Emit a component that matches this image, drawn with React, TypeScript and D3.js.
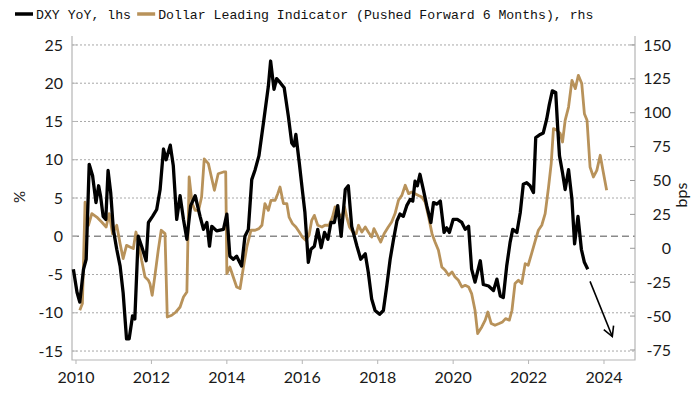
import * as d3 from 'd3';

// DXY YoY (%), left axis: [decimal year, value]
const dxySeries: [number, number][] = [
  [2009.93, -4.3], [2010.03, -7.4], [2010.1, -8.6], [2010.2, -4.3], [2010.27, -3], [2010.35, 9.4],
  [2010.44, 7.9], [2010.53, 4.4], [2010.6, 6.6], [2010.65, 5.3], [2010.72, 2.6], [2010.79, 2.2],
  [2010.85, 8.6], [2010.92, 5.7], [2010.99, 0.9], [2011.08, -1.7], [2011.17, -3.9], [2011.25, -7.4],
  [2011.34, -13.4], [2011.41, -13.4], [2011.5, -10.4], [2011.56, -10.8], [2011.65, 0], [2011.74, -1.3],
  [2011.86, -3.2], [2011.92, 1.8], [2012.03, 2.6], [2012.14, 3.5], [2012.23, 6.1], [2012.32, 11.4],
  [2012.39, 10], [2012.5, 11.9], [2012.58, 9.2], [2012.67, 2.2], [2012.76, 5.3], [2012.85, 2.2],
  [2012.94, -0.4], [2013.04, 4], [2013.16, 5.3], [2013.29, 2.6], [2013.38, 0.9], [2013.47, 1.8],
  [2013.54, -1.3], [2013.6, 1.3], [2013.73, 0.7], [2013.91, 0.9], [2014.0, 2.9], [2014.08, -2.6],
  [2014.17, -3], [2014.26, -2.6], [2014.39, -3.9], [2014.48, 0], [2014.57, 0.9], [2014.66, 7.4],
  [2014.75, 8.7], [2014.85, 10.5], [2014.97, 14.8], [2015.1, 19.6], [2015.16, 22.9], [2015.25, 19.2],
  [2015.32, 20.6], [2015.41, 20.1], [2015.52, 19.4], [2015.63, 15.7], [2015.72, 12.2], [2015.78, 11.8],
  [2015.83, 13.3], [2015.92, 9.6], [2016.0, 6.1], [2016.07, 3.1], [2016.16, -3.4], [2016.23, -1.7],
  [2016.32, -1.3], [2016.41, 0.9], [2016.5, -1.5], [2016.59, 0.5], [2016.68, -0.4], [2016.76, 1.8],
  [2016.85, 1.8], [2016.94, 4], [2017.03, 0], [2017.14, 6.1], [2017.22, 6.6], [2017.31, 1.3],
  [2017.45, -1.3], [2017.55, -3], [2017.67, -2.3], [2017.75, -4.7], [2017.84, -8.2], [2017.93, -9.7],
  [2018.05, -10.2], [2018.15, -9.7], [2018.24, -6.5], [2018.33, -3], [2018.42, -0.4], [2018.51, 2],
  [2018.59, 2.9], [2018.68, 2.6], [2018.77, 4], [2018.86, 4.8], [2018.93, 4.6], [2018.99, 7.2],
  [2019.05, 6.6], [2019.12, 8.1], [2019.21, 6.1], [2019.3, 4], [2019.41, 1.8], [2019.48, 4.4],
  [2019.57, 4.2], [2019.66, 4.6], [2019.76, 0.5], [2019.83, 1.1], [2019.9, 0.5], [2020.0, 2.2],
  [2020.11, 2.2], [2020.23, 1.8], [2020.32, 0.9], [2020.41, 1.3], [2020.49, -4.3], [2020.58, -6],
  [2020.72, -3.2], [2020.8, -6.3], [2020.94, -6.5], [2021.07, -7.1], [2021.16, -5.6], [2021.25, -7.8],
  [2021.33, -8], [2021.42, -3.9], [2021.51, -0.8], [2021.58, 0.9], [2021.69, 0.5], [2021.78, 3.1],
  [2021.86, 6.8], [2021.95, 7], [2022.04, 6.6], [2022.13, 5.7], [2022.19, 12.9], [2022.31, 13.3],
  [2022.39, 13.5], [2022.48, 15.3], [2022.55, 17.2], [2022.63, 19], [2022.72, 18.8], [2022.77, 14.4],
  [2022.82, 10.5], [2022.9, 8.3], [2022.97, 6.1], [2023.06, 8.7], [2023.15, 4.8], [2023.22, -1],
  [2023.31, 2.6], [2023.4, -1.7], [2023.48, -3.4], [2023.57, -4.3],
];

// Dollar Leading Indicator (bps, pushed forward 6 months), right axis
const dliSeries: [number, number][] = [
  [2010.1, -45.7], [2010.17, -40.8], [2010.24, 34], [2010.33, 17], [2010.42, 25.6], [2010.55, 23],
  [2010.68, 19.4], [2010.8, 15.7], [2010.88, 25.6], [2010.97, 10.8], [2011.08, 17], [2011.17, 3.4],
  [2011.25, -7.6], [2011.34, 2.2], [2011.43, 1], [2011.52, -0.2], [2011.59, 12], [2011.68, 1],
  [2011.74, -8.8], [2011.83, -21.2], [2011.92, -23.6], [2011.96, -26], [2012.02, -34.7], [2012.1, -18.7],
  [2012.18, -1.5], [2012.26, 13.3], [2012.36, 10.8], [2012.42, -50.7], [2012.54, -49.4], [2012.65, -47],
  [2012.76, -43.3], [2012.85, -35.9], [2012.94, -32.2], [2013.0, 52.6], [2013.08, 33], [2013.16, 28],
  [2013.25, 28], [2013.33, 37.8], [2013.4, 66], [2013.51, 62.5], [2013.67, 42.8], [2013.77, 55],
  [2013.91, 56.3], [2013.97, 56.3], [2014.0, -18.7], [2014.08, -13.8], [2014.17, -21.2], [2014.26, -28.5],
  [2014.35, -29.7], [2014.44, -13.8], [2014.53, 1], [2014.64, 13.3], [2014.75, 13.3], [2014.85, 14.5],
  [2014.93, 17], [2015.01, 33], [2015.1, 28], [2015.17, 35.4], [2015.28, 35.4], [2015.35, 40.3],
  [2015.41, 45.2], [2015.5, 33], [2015.59, 33], [2015.65, 23], [2015.74, 18.2], [2015.83, 15.7],
  [2015.92, 12], [2016.0, 8.3], [2016.09, 5.9], [2016.18, 9.6], [2016.25, 20.6], [2016.32, 24.3],
  [2016.41, 17], [2016.52, 15.7], [2016.6, 17], [2016.71, 17], [2016.8, 23], [2016.87, 30.5],
  [2016.96, 25.6], [2017.05, 23], [2017.12, 30.5], [2017.18, 23], [2017.25, 15.7], [2017.34, 12],
  [2017.43, 10.8], [2017.49, 17], [2017.58, 12], [2017.67, 15.7], [2017.75, 12], [2017.84, 8.3],
  [2017.9, 14.5], [2017.99, 9.6], [2018.08, 4.6], [2018.17, 10.8], [2018.28, 15.7], [2018.37, 19.4],
  [2018.46, 25.6], [2018.55, 35.4], [2018.64, 39], [2018.73, 46.5], [2018.82, 40.3], [2018.9, 41.5],
  [2018.99, 40.3], [2019.08, 39], [2019.17, 37.8], [2019.26, 34], [2019.35, 23], [2019.44, 10.8],
  [2019.52, 4.6], [2019.61, -1.5], [2019.7, -13.8], [2019.79, -16.2], [2019.88, -19.9], [2019.97, -17.5],
  [2020.05, -21.2], [2020.14, -23.6], [2020.23, -28.5], [2020.32, -27.3], [2020.41, -28.5], [2020.49, -33.4],
  [2020.58, -45.7], [2020.65, -62.9], [2020.76, -58], [2020.85, -53], [2020.92, -47], [2021.01, -55.5],
  [2021.11, -56.8], [2021.22, -55.5], [2021.31, -54.3], [2021.39, -51.9], [2021.49, -53], [2021.56, -45.7],
  [2021.64, -26], [2021.73, -23.6], [2021.82, -26], [2021.91, -11.3], [2021.99, -12.5], [2022.08, -3.9],
  [2022.18, 5.9], [2022.26, 13.3], [2022.35, 17], [2022.44, 25.6], [2022.53, 45.2], [2022.6, 62.5],
  [2022.66, 88.3], [2022.75, 87], [2022.84, 84.6], [2022.9, 78.4], [2022.97, 94.4], [2023.06, 104.2],
  [2023.15, 123.9], [2023.24, 117.8], [2023.32, 127.6], [2023.41, 121.5], [2023.48, 99.3], [2023.55, 94.4],
  [2023.63, 60], [2023.72, 52.6], [2023.81, 57.5], [2023.9, 68.6], [2023.98, 56.3], [2024.07, 42.8],
];

const yearTicks = [2010, 2012, 2014, 2016, 2018, 2020, 2022, 2024];
const leftTicks = [-15, -10, -5, 0, 5, 10, 15, 20, 25];
const rightTicks = [-75, -50, -25, 0, 25, 50, 75, 100, 125, 150];
// arrow annotation (in left-axis units)
const arrowFrom: [number, number] = [2023.63, -5.9];
const arrowTo: [number, number] = [2024.22, -13.1];

const legendItems = [
  { label: 'DXY YoY, lhs', color: '#000000' },
  { label: 'Dollar Leading Indicator (Pushed Forward 6 Months), rhs', color: '#b8925a' },
];

const W = 700, H = 394;
const plot = { left: 72, right: 635, top: 36, bottom: 360 };
const tickFont = 'Lato, "Open Sans", sans-serif';

export default function App() {
  const x = d3.scaleLinear().domain([2009.894, 2024.822]).range([plot.left, plot.right]);
  const yL = d3.scaleLinear().domain([-16.17, 26.17]).range([plot.bottom, plot.top]);
  const yR = d3.scaleLinear().domain([-82.4, 156.6]).range([plot.bottom, plot.top]);

  const lineL = d3.line<[number, number]>().x(d => x(d[0])).y(d => yL(d[1]));
  const lineR = d3.line<[number, number]>().x(d => x(d[0])).y(d => yR(d[1]));

  // arrow head
  const ax1 = x(arrowFrom[0]), ay1 = yL(arrowFrom[1]);
  const ax2 = x(arrowTo[0]), ay2 = yL(arrowTo[1]);
  const ang = Math.atan2(ay2 - ay1, ax2 - ax1);
  const hl = 11;
  const head = [ang + Math.PI - 0.5, ang + Math.PI + 0.5].map(a => [ax2 + hl * Math.cos(a), ay2 + hl * Math.sin(a)]);

  let lx = 15;
  const legendPos = legendItems.map(it => {
    const pos = lx;
    lx += 21 + it.label.length * 7.93 + 6;
    return pos;
  });

  return (
    <div style={{ position: 'absolute', left: 0, top: 0 }}>
      <svg width={W} height={H} style={{ display: 'block', background: '#fff' }}>
        {/* legend */}
        {legendItems.map((it, i) => (
          <g key={it.label} transform={`translate(${legendPos[i]},0)`}>
            <line x1={0} x2={18} y1={14} y2={14} stroke={it.color} strokeWidth={3.5} />
            <text x={21} y={19} fontFamily='"Liberation Mono", "DejaVu Sans Mono", monospace' fontSize={13.2} fill="#111">
              {it.label}
            </text>
          </g>
        ))}

        {/* gridlines */}
        {leftTicks.map(t => (
          <line key={t} x1={plot.left} x2={plot.right} y1={yL(t)} y2={yL(t)}
            stroke={t === 0 ? '#8a8a8a' : '#a8a8a8'} strokeWidth={t === 0 ? 1.3 : 1}
            strokeDasharray={t === 0 ? '7,4' : '2,2'} />
        ))}

        {/* frame */}
        <path d={`M${plot.left},${plot.top}V${plot.bottom}H${plot.right}V${plot.top}`} fill="none" stroke="#b5b5b5" strokeWidth={1.2} />

        {/* left ticks */}
        {leftTicks.map(t => (
          <g key={t}>
            <line x1={plot.left} x2={plot.left + 5} y1={yL(t)} y2={yL(t)} stroke="#b5b5b5" />
            <text x={63} y={yL(t)} dy="0.35em" textAnchor="end" fontFamily={tickFont} fontSize={16} fill="#1a1a1a">{t}</text>
          </g>
        ))}
        {/* right ticks */}
        {rightTicks.map(t => (
          <g key={t}>
            <line x1={plot.right - 5} x2={plot.right} y1={yR(t)} y2={yR(t)} stroke="#9a9a9a" />
            <text x={671} y={yR(t)} dy="0.35em" textAnchor="end" fontFamily={tickFont} fontSize={16} fill="#1a1a1a">{t}</text>
          </g>
        ))}
        {/* bottom ticks */}
        {yearTicks.map(t => (
          <g key={t}>
            <line x1={x(t)} x2={x(t)} y1={plot.bottom} y2={plot.bottom + 4} stroke="#b5b5b5" />
            <text x={x(t)} y={383} textAnchor="middle" fontFamily={tickFont} fontSize={16} fill="#1a1a1a">{d3.format('d')(t)}</text>
          </g>
        ))}

        {/* axis titles */}
        <text transform="translate(25,197) rotate(-90)" textAnchor="middle" fontFamily={tickFont} fontSize={15} fill="#1a1a1a">%</text>
        <text transform="translate(687,195) rotate(-90)" textAnchor="middle" fontFamily={tickFont} fontSize={16} fill="#1a1a1a">bps</text>

        {/* series */}
        <path d={lineR(dliSeries) ?? ''} fill="none" stroke="#b8925a" strokeWidth={2.8} strokeLinejoin="round" />
        <path d={lineL(dxySeries) ?? ''} fill="none" stroke="#000" strokeWidth={3.3} strokeLinejoin="round" />

        {/* arrow */}
        <line x1={ax1} y1={ay1} x2={ax2} y2={ay2} stroke="#000" strokeWidth={1.6} />
        <polyline points={`${head[0][0]},${head[0][1]} ${ax2},${ay2} ${head[1][0]},${head[1][1]}`} fill="none" stroke="#000" strokeWidth={1.6} />
      </svg>
    </div>
  );
}
